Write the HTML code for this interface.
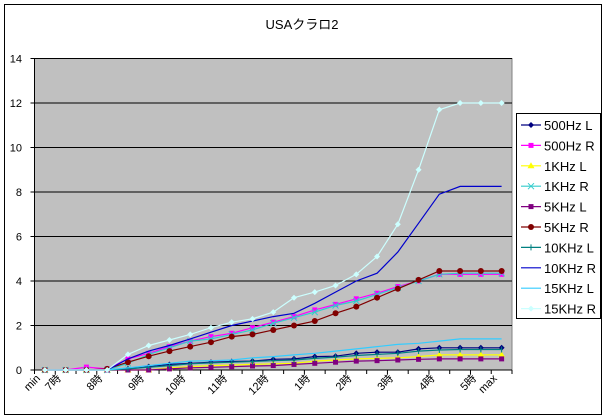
<!DOCTYPE html>
<html><head><meta charset="utf-8"><style>
html,body{margin:0;padding:0;background:#fff;}
svg{display:block;}
text{font-family:"Liberation Sans","Noto Sans CJK JP",sans-serif;}
</style></head><body>
<svg id="c" width="608" height="420" xmlns="http://www.w3.org/2000/svg">
<rect x="0" y="0" width="608" height="420" fill="#fff"/>
<rect x="4.5" y="4.5" width="597" height="410" fill="none" stroke="#000" stroke-width="1"/>
<text x="302" y="29" font-size="13" text-anchor="middle">USAクラロ2</text>
<rect x="34.5" y="58.5" width="477.5" height="311.5" fill="#c0c0c0" stroke="#808080"/>
<g id="grid"></g>
<g id="series"></g>
<rect x="516.5" y="113.5" width="84" height="205" fill="#fff" stroke="#000"/>
<g id="legend"></g>
</svg>
<script>
var NS="http://www.w3.org/2000/svg";
function el(p,n,a,t){var e=document.createElementNS(NS,n);for(var k in a)e.setAttribute(k,a[k]);if(t!=null)e.textContent=t;p.appendChild(e);return e;}
var L=34.5,R=512,T=58.5,B=370,N=23,cw=(R-L)/N,sc=(B-T)/14;
function X(i){return L+cw*(i+0.5);}function Y(v){return B-v*sc;}
var g=document.getElementById('grid');
for(var v=2;v<=14;v+=2){el(g,'line',{x1:L,x2:R,y1:Y(v),y2:Y(v),stroke:'#000','stroke-width':1});}
el(g,'line',{x1:L,x2:L,y1:T,y2:B,stroke:'#000'});
el(g,'line',{x1:L,x2:R,y1:B,y2:B,stroke:'#000'});
for(var v=0;v<=14;v+=2){el(g,'line',{x1:L-4,x2:L,y1:Y(v),y2:Y(v),stroke:'#000'});el(g,'text',{x:22,y:Y(v)+4,'font-size':11,'text-anchor':'end'},String(v));}
for(var i=0;i<=N;i++){el(g,'line',{x1:L+cw*i,x2:L+cw*i,y1:B,y2:B+4,stroke:'#000'});}
var labs={0:'min',1:'7時',3:'8時',5:'9時',7:'10時',9:'11時',11:'12時',13:'1時',15:'2時',17:'3時',19:'4時',21:'5時',22:'max'};
for(var k in labs){var x=X(+k)-4,y=B+9;el(g,'text',{x:x,y:y,'font-size':11,'text-anchor':'end',transform:'rotate(-45 '+x+' '+y+')'},labs[k]);}
var S=[
['500Hz L','#000080','d',[0,0,0,0,0.05,0.15,0.25,0.3,0.35,0.38,0.4,0.48,0.5,0.6,0.62,0.75,0.8,0.8,0.95,1,1,1,1]],
['500Hz R','#ff00ff','s',[0,0,0.13,0.05,0.5,0.75,1.05,1.3,1.5,1.65,1.9,2.15,2.4,2.7,2.95,3.2,3.45,3.75,4,4.3,4.3,4.3,4.3]],
['1KHz L','#ffff00','t',[0,0,0,0,0,0,0.1,0.15,0.2,0.22,0.25,0.28,0.3,0.4,0.45,0.5,0.52,0.55,0.6,0.68,0.68,0.68,0.68]],
['1KHz R','#33cccc','x',[0,0,0,0,0.3,0.7,1,1.3,1.4,1.6,1.8,2.1,2.35,2.6,2.9,3.1,3.4,3.7,4,4.3,4.35,4.35,4.35]],
['5KHz L','#800080','s',[0,0,0,0,0,0,0.05,0.1,0.12,0.15,0.18,0.2,0.25,0.3,0.35,0.4,0.42,0.45,0.48,0.5,0.5,0.5,0.5]],
['5KHz R','#800000','c',[0,0,0,0.05,0.35,0.62,0.85,1.05,1.25,1.5,1.6,1.8,2,2.2,2.55,2.85,3.25,3.65,4.05,4.45,4.45,4.45,4.45]],
['10KHz L','#008080','p',[0,0,0,0,0.05,0.12,0.2,0.28,0.32,0.35,0.38,0.42,0.45,0.52,0.58,0.65,0.7,0.75,0.85,0.9,0.92,0.92,0.92]],
['10KHz R','#0000cc','n',[0,0,0,0,0.5,0.85,1.1,1.4,1.7,2,2.2,2.4,2.55,3,3.5,4,4.35,5.3,6.6,7.9,8.25,8.25,8.25]],
['15KHz L','#33ccff','n',[0,0,0,0,0.1,0.2,0.3,0.4,0.42,0.45,0.55,0.6,0.68,0.75,0.85,0.95,1.05,1.15,1.2,1.3,1.4,1.4,1.4]],
['15KHz R','#ccffff','d',[0,0,0,0,0.7,1.1,1.35,1.6,1.9,2.15,2.3,2.6,3.25,3.5,3.8,4.3,5.1,6.55,9,11.7,12,12,12]]
];
function mk(p,t,x,y,c){
 if(t=='d')el(p,'polygon',{points:(x)+','+(y-3)+' '+(x+3)+','+y+' '+x+','+(y+3)+' '+(x-3)+','+y,fill:c});
 else if(t=='s')el(p,'rect',{x:x-2.5,y:y-2.5,width:5,height:5,fill:c});
 else if(t=='t')el(p,'polygon',{points:x+','+(y-3.5)+' '+(x+3.5)+','+(y+2.5)+' '+(x-3.5)+','+(y+2.5),fill:c});
 else if(t=='x'){el(p,'path',{d:'M'+(x-3)+' '+(y-3)+'L'+(x+3)+' '+(y+3)+'M'+(x+3)+' '+(y-3)+'L'+(x-3)+' '+(y+3),stroke:c,'stroke-width':1});}
 else if(t=='c')el(p,'circle',{cx:x,cy:y,r:3,fill:c});
 else if(t=='p')el(p,'path',{d:'M'+x+' '+(y-3)+'V'+(y+3),stroke:c});
}
var sg=document.getElementById('series'),lg=document.getElementById('legend');
S.forEach(function(s,k){
 var pts=s[3].map(function(v,i){return X(i).toFixed(1)+','+Y(v).toFixed(1);}).join(' ');
 el(sg,'polyline',{points:pts,fill:'none',stroke:s[1],'stroke-width':1.2});
 s[3].forEach(function(v,i){mk(sg,s[2],X(i),Y(v),s[1]);});
 var ly=125+k*20.4;
 el(lg,'line',{x1:521,x2:541,y1:ly,y2:ly,stroke:s[1],'stroke-width':1.2});
 mk(lg,s[2],531,ly,s[1]);
 el(lg,'text',{x:544,y:ly+5,'font-size':13},s[0]);
});
</script>
</body></html>
